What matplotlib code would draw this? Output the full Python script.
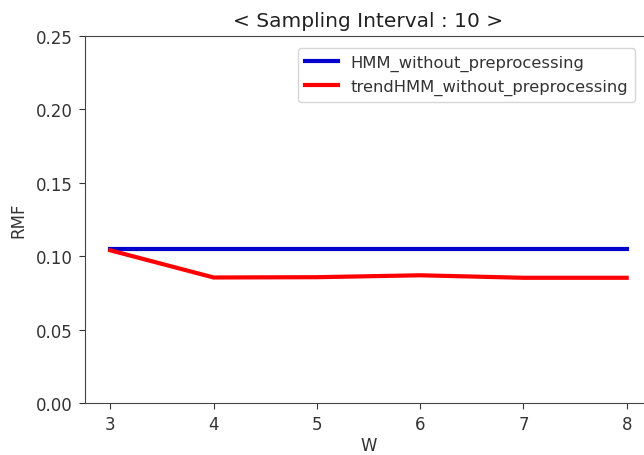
import matplotlib
matplotlib.use("Agg")
import matplotlib.pyplot as plt

W = [3, 4, 5, 6, 7, 8]
hmm = [0.105, 0.105, 0.105, 0.105, 0.105, 0.105]
trend_hmm = [0.104, 0.0855, 0.0857, 0.0870, 0.0853, 0.0853]
yticks = [0.00, 0.05, 0.10, 0.15, 0.20, 0.25]

fig = plt.figure(figsize=(6.44, 4.56), dpi=100)
ax = fig.add_axes([84.5/644, 52/456, 568/644, 367/456])
ax.plot(W, hmm, color='#0000cc', lw=3, label='HMM_without_preprocessing')
ax.plot(W, trend_hmm, color='#ff0000', lw=3, label='trendHMM_without_preprocessing')
ax.set_ylim(0, 0.25)
ax.set_yticks(yticks)
ax.set_yticklabels([f"{v:.2f}" for v in yticks])
ax.set_xticks(W)
ax.tick_params(labelsize=12, colors='#333333', length=4.5, pad=4)
for s in ax.spines.values():
    s.set_color('#444444')
ax.spines['right'].set_visible(False)
ax.set_xlabel('W', fontsize=12, color='#333333', labelpad=2)
ax.set_ylabel('RMF', fontsize=12, color='#333333', labelpad=6)
ax.set_title('< Sampling Interval : 10 >', fontsize=14.5, color='#222222', pad=7)
leg = ax.legend(loc='upper right', bbox_to_anchor=(643/644, 1 - 41/456),
                bbox_transform=fig.transFigure, fontsize=11.8, handlelength=2.0)
for t in leg.get_texts():
    t.set_color('#333333')
fig.savefig('out.png', dpi=100)
